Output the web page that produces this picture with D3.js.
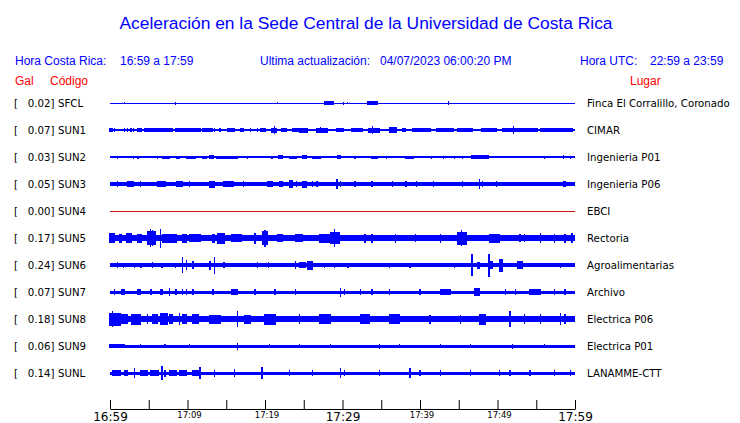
<!DOCTYPE html>
<html><head><meta charset="utf-8">
<script src="https://cdn.jsdelivr.net/npm/d3@7"></script>
<style>body{margin:0;background:#fff}svg{display:block}</style>
</head><body><svg id="c" width="740" height="423"></svg>
<script>
// ---------- data ----------
const codes  = ["SFCL","SUN1","SUN2","SUN3","SUN4","SUN5","SUN6","SUN7","SUN8","SUN9","SUNL"];
const gal    = [0.02, 0.07, 0.03, 0.05, 0.00, 0.17, 0.24, 0.07, 0.18, 0.06, 0.14];
const places = ["Finca El Corralillo, Coronado","CIMAR","Ingenieria P01","Ingenieria P06","EBCI","Rectoria","Agroalimentarias","Archivo","Electrica P06","Electrica P01","LANAMME-CTT"];
// background (noise) half-amplitude of each trace
const baseAmp = [0.5, 0.7, 0.6, 2.0, 0.5, 3.3, 1.8, 1.5, 3.0, 1.5, 1.5];
// bursts: [start minute, end minute, half-amplitude]  (minutes after 16:59)
const evSFCL = [[1.9,1.9,1],[8.5,8.5,1.5],[21.6,21.6,1],[27.7,28.8,2],[30.1,30.1,1.5],[30.6,30.6,1],[33.2,34.5,2],[43.7,43.7,2]];
const evSUN1 = [[0,0.3,2],[0.6,0.6,2],[1.9,1.9,1.8],[2.3,2.3,1.8],[2.7,2.7,1.8],[3.0,3.0,1.8],[3.6,4.1,2],[4.5,8.1,2],[8.4,9.7,2],[9.9,11.6,2],[12,13.2,2],[13.5,13.5,2],[14.2,14.2,2],[15.2,16.1,2],[16.8,17.2,2],[18.1,18.1,2],[19,19,2],[19.4,20,2],[20.9,21.5,2.5],[21.2,21.2,4],[22.2,22.8,2],[23.5,24.3,2],[24.5,25.5,2.5],[26.7,28,2.5],[27.2,27.2,3],[29.3,30.1,2],[31.2,32.6,2],[33.4,34.8,2.5],[33.9,33.9,4],[36.1,37,3],[37.7,38.1,2],[39.1,41.3,1.8],[42.2,44.3,1.8],[44.8,46.8,1.8],[48,49.9,2],[50.7,55.1,2],[52.1,52.1,4],[55.5,59.7,2]];
const evSUN2 = [[1.0,1.0,1.5],[3.0,3.0,1.5],[3.6,3.6,1.5],[6.1,6.1,1.5],[6.8,7.7,1.5],[8.6,9,1.5],[9.9,11,1.5],[12,12.5,1.5],[12.9,13.3,2],[13.8,16.4,1.5],[17.7,17.7,1.5],[20.9,21,1.5],[21.7,22.3,2],[23.2,24.1,1.5],[24.9,25.4,2],[26.1,27.1,1.5],[29.4,29.7,2],[31.6,31.6,1.5],[33.8,34.5,1.5],[35.7,35.7,1.5],[38.1,39.1,1.5],[41.5,41.5,1.5],[43,43,1.5],[44.5,44.5,1.5],[45.5,45.5,1.5],[46.7,48.8,2],[56.1,56.1,1.5],[58.5,58.5,2],[59.4,59.4,1.5]];
const evSUN3 = [[1.0,1.0,3],[2.3,3,3],[3.9,3.9,3],[6.1,7.1,3],[8.6,9.3,3],[10.3,10.3,3],[12.9,13.5,3.5],[14.6,15.9,3],[17.2,17.2,3],[20.3,21,3],[21.9,22.3,3],[23.2,23.5,4],[24.1,24.1,3],[24.9,25.4,3.5],[26.1,26.1,3],[26.7,26.7,3],[29.3,29.3,5],[29.7,29.7,3],[31.6,31.6,3],[33.8,33.8,3],[36.4,36.4,3],[38.2,38.2,3],[39.5,39.5,3],[41.7,41.7,3],[45.5,45.5,3],[47.7,47.7,5],[48.1,48.1,3],[49.9,49.9,3],[58.5,58.5,3],[58.7,58.7,3]];
const evSUN4 = [];
const evSUN5 = [[0,0.6,5],[1.3,1.5,4.5],[2.2,2.8,5],[3.5,4.1,4.5],[4.8,5.8,7],[5.2,5.2,9],[5.5,5.5,8],[6.5,6.5,9.5],[6.8,8.6,4.5],[9.4,9.9,4.5],[10.3,11.6,4],[13.2,13.5,4.5],[13.9,14.8,5.5],[15.7,17,4],[18.7,18.7,5.5],[19.7,20.3,7],[20,20,8.5],[21.6,22.2,4],[24,24.8,4],[27.1,28.7,4.5],[28.4,29.6,6],[29,29,9],[32.9,32.9,4.5],[33.8,33.8,4.5],[36.8,36.8,4.5],[39.4,39.4,4],[42.6,42.6,4.5],[44.9,46,6.5],[45.4,45.4,8],[49,50.3,4.5],[52.9,52.9,4],[53.5,53.5,4],[55.5,55.5,5],[57.4,57.4,4.5],[58.7,58.7,4.5],[59.6,59.6,5]];
const evSUN6 = [[1.0,1.0,3],[1.7,1.7,2.5],[3.2,3.2,2.5],[3.9,4.1,2.5],[5.5,5.5,3],[6.7,6.7,2.5],[8.4,8.4,2.5],[9.4,9.4,8],[9.9,9.9,5],[10.6,10.7,4],[12.9,12.9,4.5],[13.5,13.5,8.5],[14.6,14.8,3],[19,19,3],[20.4,20.4,3],[23.9,23.9,4],[24.5,25.2,3],[25.5,26.1,4.5],[27.7,27.7,2.5],[29,29,2.5],[30.7,30.7,2.5],[36.1,36.1,2.5],[38.7,38.7,2.5],[44.5,44.5,2.5],[46.7,46.7,11],[47.4,47.7,3.5],[48.8,49.3,4],[48.9,48.9,11.5],[50.3,50.6,6.5],[52.6,53.2,4],[58.1,58.1,2.5]];
const evSUN7 = [[0.6,0.6,3],[1.5,1.9,3],[3.5,3.9,3],[5.2,5.4,3],[6.5,6.7,3],[7.7,7.7,4],[8.4,8.6,3],[9.4,9.4,3],[9.9,9.9,3],[10.7,10.7,3],[13.3,13.3,3],[15.7,16.4,3],[18.7,18.7,3],[21.3,21.3,3],[23.9,23.9,3],[29.7,29.7,4.5],[30.3,30.3,3],[32.3,32.3,3],[33.8,33.8,3],[36.1,36.1,3],[40,40,3],[42.6,43.9,3],[47.1,47.7,4],[51,51,3],[52.3,52.3,3],[54.2,55.5,3],[57.4,57.4,3],[58.7,58.7,3]];
const evSUN8 = [[0,1.3,6.5],[0.3,0.3,8],[1.5,2.2,5],[2.8,3.9,5.5],[4.8,4.8,5],[5.5,6.1,5],[6.5,7.4,6],[7.7,8.1,5],[9,9,6],[9.4,9.9,5],[10.6,11.4,5],[12.9,14.2,4.5],[16.4,16.4,8],[17.4,18.1,4.5],[20,21.3,5.5],[24.5,24.5,5],[27.1,28.4,5],[32.3,33.5,5],[36.1,37.4,5],[41.3,41.3,4.5],[45.2,45.2,4.5],[47.7,48.4,5.5],[51.6,51.6,8],[53.5,53.5,5],[55.5,55.5,5],[58.1,58.1,6],[58.7,58.7,5]];
const evSUN9 = [[0,1.9,2.2],[3.9,3.9,2],[7.1,7.1,2],[10.3,10.3,2],[16.4,16.4,3.5],[20.6,20.6,2],[24.5,24.5,2],[28.4,28.4,2],[34.8,34.8,2.5],[37.4,37.4,2],[42.6,42.6,2],[46.5,46.5,2],[51.9,51.9,2.5],[56.1,56.1,2]];
const evSUNL = [[0.3,1.3,3],[1.9,2.2,3],[3.2,3.2,5],[3.9,4.8,3],[5.2,6.2,3],[6.7,6.7,7],[7.1,7.1,3.5],[7.7,8.6,3],[9,9.9,3],[10.7,11.4,3],[11.6,11.6,6],[13.5,13.5,3.5],[16.1,16.1,4],[19.6,19.6,6],[23.2,23.2,3],[26.1,26.1,3],[29.7,29.7,5],[30.3,30.3,3],[34.8,34.8,3],[38.7,38.7,5],[40,40,3],[42.6,42.6,3],[46.5,46.5,3],[50.3,50.3,3],[51.6,51.6,3],[54.2,54.2,3],[57.4,57.4,3],[59.4,59.4,3]];
const events = [evSFCL,evSUN1,evSUN2,evSUN3,evSUN4,evSUN5,evSUN6,evSUN7,evSUN8,evSUN9,evSUNL];

const tickMinutes = [0,5,10,15,20,25,30,35,40,45,50,55,60];
const tickLabels  = ["16:59","","17:09","","17:19","","17:29","","17:39","","17:49","","17:59"];
const majorLabels = ["16:59","17:29","17:59"];

const title = "Aceleración en la Sede Central de la Universidad de Costa Rica";
const crTime = "16:59 a 17:59";
const utcTime = "22:59 a 23:59";
const updated = "04/07/2023 06:00:20 PM";

// ---------- drawing ----------
const svg = d3.select("#c");
const BLUE = "#0000ff", RED = "#ff0000";
const x = d3.scaleLinear().domain([0,60]).range([110,575]);
const y = d3.scalePoint().domain(codes).range([103,373]);
const amp = d3.scaleLinear().domain([0,12]).range([0,12]);

svg.append("text").attr("x",366).attr("y",29).attr("text-anchor","middle")
  .attr("font-family","Liberation Sans, Arial, sans-serif").attr("font-size",17.4)
  .attr("fill",BLUE).text(title);

const hdr = [
  {t:"Hora Costa Rica:", x:15}, {t:crTime, x:120},
  {t:"Ultima actualización:", x:260}, {t:updated, x:380},
  {t:"Hora UTC:", x:580}, {t:utcTime, x:650}
];
svg.selectAll("text.hdr").data(hdr).join("text").attr("class","hdr")
  .attr("x",d=>d.x).attr("y",65).attr("font-family","Liberation Sans, Arial, sans-serif")
  .attr("font-size",12).attr("fill",BLUE).text(d=>d.t);

const red = [{t:"Gal",x:15},{t:"Código",x:50},{t:"Lugar",x:630}];
svg.selectAll("text.red").data(red).join("text").attr("class","red")
  .attr("x",d=>d.x).attr("y",85).attr("font-family","Liberation Sans, Arial, sans-serif")
  .attr("font-size",12).attr("fill",RED).text(d=>d.t);

const rows = svg.selectAll("g.row").data(codes.map((c,i)=>({c,i}))).join("g")
  .attr("class","row").attr("transform",d=>`translate(0,${y(d.c)})`);

const lf = "DejaVu Sans, Verdana, sans-serif";
rows.append("text").attr("x",14).attr("y",3.8).attr("font-family",lf).attr("font-size",10.2).text("[");
rows.append("text").attr("x",54.5).attr("y",3.8).attr("text-anchor","end").attr("font-family",lf)
  .attr("font-size",10.2).text(d=>gal[d.i].toFixed(2)+"]");
rows.append("text").attr("x",58).attr("y",3.8).attr("font-family",lf).attr("font-size",10.2).text(d=>d.c);
rows.append("text").attr("x",587).attr("y",3.8).attr("font-family",lf).attr("font-size",10.2).text(d=>places[d.i]);

rows.append("rect")
  .attr("x",x(0)).attr("width",x(60)-x(0))
  .attr("y",d=>-Math.max(amp(baseAmp[d.i]),0.5))
  .attr("height",d=>2*Math.max(amp(baseAmp[d.i]),0.5))
  .attr("shape-rendering","crispEdges")
  .attr("fill",d=>gal[d.i]===0 ? "#cc1010" : BLUE);

rows.each(function(d){
  d3.select(this).selectAll("rect.ev").data(events[d.i]).join("rect").attr("class","ev")
    .attr("x",e=>x(e[0])-0.6)
    .attr("width",e=>Math.max(x(e[1])-x(e[0]),0)+1.2)
    .attr("y",e=>-amp(e[2])).attr("height",e=>2*amp(e[2]))
    .attr("shape-rendering","crispEdges")
    .attr("fill",BLUE);
});

// time axis
const axis = d3.axisBottom(x).tickValues(tickMinutes).tickSizeInner(-9).tickSizeOuter(0)
  .tickFormat((m,i)=>tickLabels[i]);
const ag = svg.append("g").attr("transform","translate(0,409)").call(axis);
ag.select(".domain").attr("stroke","#000");
ag.selectAll(".tick line").attr("stroke","#000");
const isMajor = d => majorLabels.includes(tickLabels[tickMinutes.indexOf(d)]);
ag.selectAll(".tick text")
  .attr("font-family",lf).attr("fill","#000").attr("dy",null)
  .attr("dx",d=>isMajor(d) ? 0 : 1.5)
  .attr("y",d=>isMajor(d) ? 11.8 : 9.3)
  .attr("font-size",d=>isMajor(d) ? 12 : 8.5);
</script></body></html>
